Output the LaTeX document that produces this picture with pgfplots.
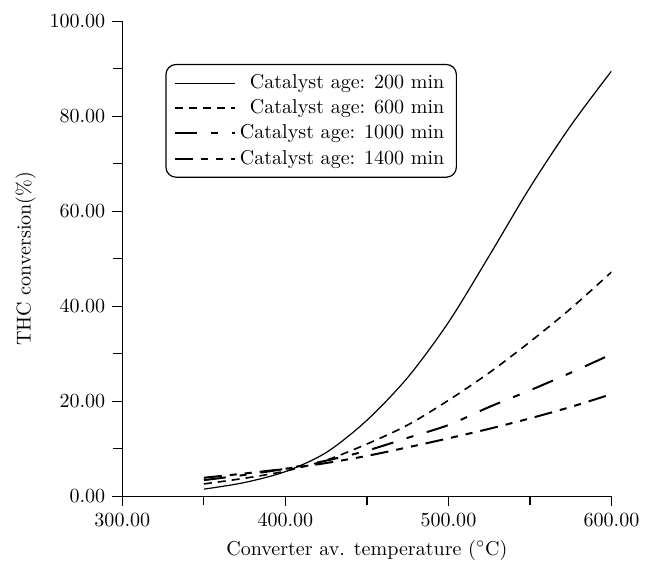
\documentclass[border=0pt]{standalone}
\usepackage{pgfplots}
\pgfplotsset{compat=1.18}
\begin{document}
\begin{tikzpicture}
\begin{axis}[
    scale only axis,
    width=244pt, height=237pt,
    xmin=300, xmax=600, ymin=0, ymax=100,
    axis x line=bottom, axis y line=left,
    axis line style={-, line width=0.7pt},
    tick align=outside,
    xtick={300,400,500,600}, minor xtick={350,450,550},
    ytick={0,20,40,60,80,100}, minor ytick={10,30,50,70,90},
    major tick length=5pt, minor tick length=4.5pt,
    tick style={black, line width=0.6pt},
    xticklabel style={/pgf/number format/.cd, fixed, fixed zerofill, precision=2},
    yticklabel style={/pgf/number format/.cd, fixed, fixed zerofill, precision=2},
    xlabel={Converter av. temperature ($^{\circ}$C)},
    ylabel={THC conversion(\%)},
    legend cell align=right,
    legend image code/.code={\draw[#1] (0cm,0cm) -- (1.05cm,0cm);},
    legend style={at={(0.088,0.91)}, anchor=north west, draw=black,
        rounded corners=5pt, line width=0.6pt, row sep=0pt,
        inner xsep=4pt, inner ysep=3pt},
]
% 200 min
\addplot[black, line width=0.6pt, smooth] coordinates {
(350,1.5) (375,2.9) (400,5.2) (425,9.2) (450,16.0) (475,25.0)
(500,36.6) (525,50.6) (550,65.0) (575,78.0) (600,89.5)};
\addlegendentry{Catalyst age: 200 min}
% 600 min
\addplot[black, line width=0.8pt, smooth, dash pattern=on 4pt off 3pt] coordinates {
(350,2.6) (375,3.8) (400,5.3) (425,7.6) (450,11.0) (475,15.0)
(500,20.2) (525,26.0) (550,32.5) (575,39.5) (600,47.2)};
\addlegendentry{Catalyst age: 600 min}
% 1000 min
\addplot[black, line width=1.0pt, smooth, dash pattern=on 11pt off 7pt on 3.5pt off 7pt] coordinates {
(350,3.4) (375,4.5) (400,5.8) (425,7.5) (450,9.6) (475,12.3)
(500,15.0) (525,18.8) (550,22.3) (575,26.0) (600,29.9)};
\addlegendentry{Catalyst age: 1000 min}
% 1400 min
\addplot[black, line width=1.0pt, smooth, dash pattern=on 9pt off 4pt on 3.5pt off 4pt on 3.5pt off 4pt] coordinates {
(350,3.9) (375,4.8) (400,5.8) (425,7.0) (450,8.5) (475,10.3)
(500,12.2) (525,14.2) (550,16.4) (575,18.8) (600,21.5)};
\addlegendentry{Catalyst age: 1400 min}
\end{axis}
% blank margin on the left and top, as in the reference
\path ([xshift=-4.5pt]current bounding box.west) ([yshift=4pt]current bounding box.north);
\end{tikzpicture}
\end{document}
